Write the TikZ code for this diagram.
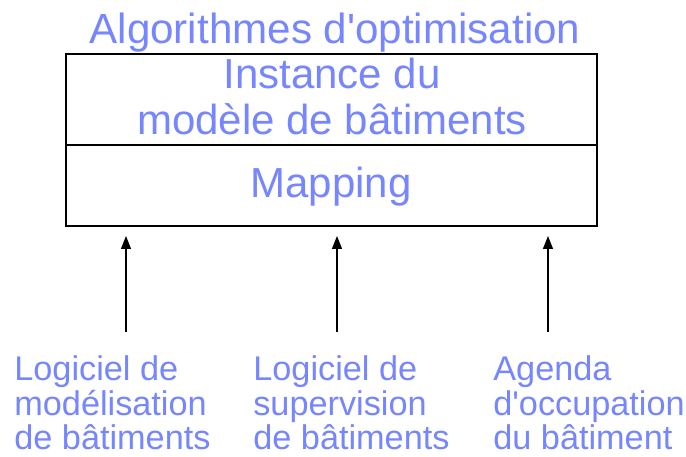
\documentclass[tikz,border=0pt]{standalone}
\usepackage{fontspec}
\setmainfont{Liberation Sans}
\usetikzlibrary{arrows.meta}
\definecolor{labelblue}{RGB}{118,134,255}
\begin{document}
\begin{tikzpicture}[scale=0.2]
        \tikzstyle{every node}+=[inner sep=0pt, text=labelblue]
        \tikzstyle{big}=[font=\fontsize{23.9}{26.7}\selectfont, align=center]
        \tikzstyle{small}=[font=\fontsize{19.5}{19.9}\selectfont, align=left, anchor=base west]
        \tikzstyle{feed}=[black, line width=0.8pt, -{Triangle[length=2.6mm,width=2mm]}]
        \useasboundingbox (0,0) rectangle (68.6,-45.7);
        % the layered box
        \draw [black, line width=1.1pt] (6.6,-5.4) rectangle (59.7,-22.6);
        \draw [black, line width=1.1pt] (6.6,-14.5) -- (59.7,-14.5);
        \node (algo) [font=\fontsize{24}{26}\selectfont, anchor=base] at (33.5,-4.4) {Algorithmes d\textquotesingle optimisation};
        \node (inst) [big, anchor=base] at (33.2,-13.5) {Instance du\\mod\`ele de b\^atiments};
        \node (map) [big, anchor=base] at (33.1,-19.8) {Mapping};
        % sources
        \node (soft1) [small] at (1.4,-45.0) {Logiciel de\\mod\'elisation\\de b\^atiments};
        \node (soft2) [small] at (25.3,-45.0) {Logiciel de\\supervision\\de b\^atiments};
        \node (agenda) [small] at (49.3,-45.0) {Agenda\\d\textquotesingle occupation\\du b\^atiment};
        \coordinate (foot1) at (12.6,-33.2);
        \coordinate (foot2) at (33.7,-33.2);
        \coordinate (foot3) at (54.8,-33.2);
        \coordinate (tip1) at (12.6,-23.6);
        \coordinate (tip2) at (33.7,-23.6);
        \coordinate (tip3) at (54.8,-23.6);
        \draw [feed] (foot1) -- (tip1);
        \draw [feed] (foot2) -- (tip2);
        \draw [feed] (foot3) -- (tip3);
    \end{tikzpicture}
\end{document}
